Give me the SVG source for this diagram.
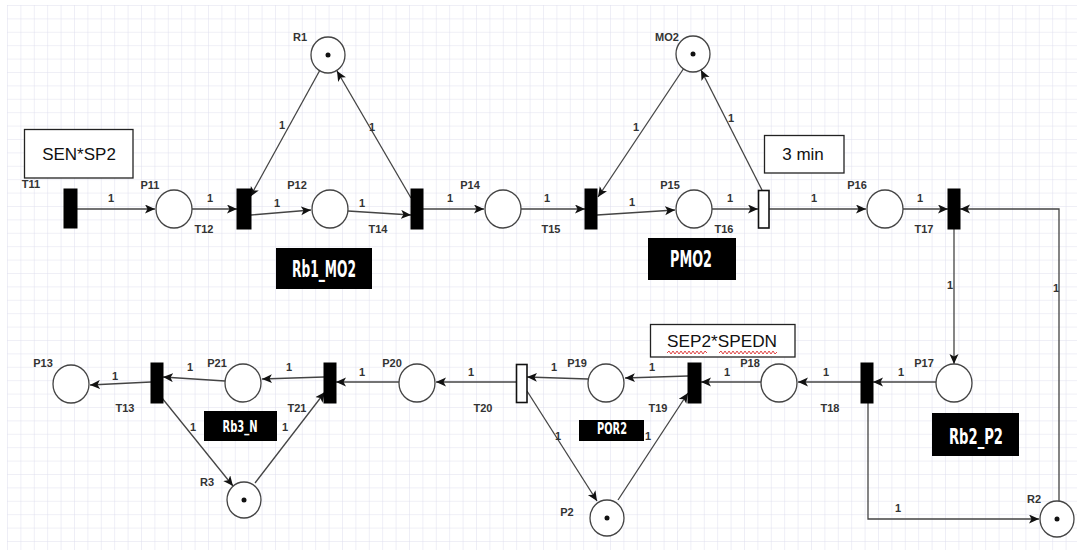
<svg xmlns="http://www.w3.org/2000/svg" width="1077" height="554" viewBox="0 0 1077 554">
<defs>
<pattern id="grid" x="7" y="5" width="13.4" height="13.4" patternUnits="userSpaceOnUse">
<path d="M0,0 H13.4 M0,0 V13.4" fill="none" stroke="#dfdfee" stroke-width="1"/>
</pattern>
<marker id="arr" markerUnits="userSpaceOnUse" markerWidth="12" markerHeight="10" refX="10" refY="4.5" orient="auto">
<path d="M0,0 L10,4.5 L0,9 L2.5,4.5 Z" fill="#111"/>
</marker>
<style>
.pl{fill:#fff;stroke:#444;stroke-width:1.3}
.tr{fill:#000;stroke:#000;stroke-width:1}
.trw{fill:#fff;stroke:#111;stroke-width:1.6}
.tok{fill:#111}
.lb{font-family:"Liberation Sans",Arial,sans-serif;font-size:11px;font-weight:bold;fill:#333;text-anchor:middle}
.cn{fill:none;stroke:#444;stroke-width:1.3;marker-end:url(#arr)}
.box{fill:#fff;stroke:#222;stroke-width:1.3}
.bt{font-family:"Liberation Sans",Arial,sans-serif;font-size:17px;fill:#111;text-anchor:middle}
.blk{fill:#000}
.wt{font-family:"Liberation Sans Narrow","DejaVu Sans Condensed","Liberation Sans",sans-serif;font-weight:bold;fill:#fff;text-anchor:middle}
</style>
</defs>
<rect width="1077" height="554" fill="#fff"/>
<rect x="7" y="5" width="1070" height="545" fill="url(#grid)"/>

<g id="connectors">
<path class="cn" d="M77,209 L155,209"/>
<path class="cn" d="M192,209 L237,209"/>
<path class="cn" d="M251,215 L311,210"/>
<path class="cn" d="M348,211 L411,215"/>
<path class="cn" d="M320,70 L250,197"/>
<path class="cn" d="M411,198 L337,71"/>
<path class="cn" d="M423,209 L484,209"/>
<path class="cn" d="M521,209 L585,209"/>
<path class="cn" d="M684,68 L598,197"/>
<path class="cn" d="M597,215 L675,210"/>
<path class="cn" d="M712,209 L758,209"/>
<path class="cn" d="M762,190 L701,70"/>
<path class="cn" d="M769,209 L866,209"/>
<path class="cn" d="M903,209 L948,209"/>
<path class="cn" d="M1059,502 L1059,209 L960,209"/>
<path class="cn" d="M954,229 L954,364"/>
<path class="cn" d="M936,382 L873,382"/>
<path class="cn" d="M868,403 L868,519 L1039,519"/>
<path class="cn" d="M861,382 L798,382"/>
<path class="cn" d="M761,382 L701,382"/>
<path class="cn" d="M688,376 L625,378"/>
<path class="cn" d="M588,379 L527,377"/>
<path class="cn" d="M516,382 L436,382"/>
<path class="cn" d="M399,382 L336,382"/>
<path class="cn" d="M324,377 L262,379"/>
<path class="cn" d="M225,381 L163,377"/>
<path class="cn" d="M151,382 L90,385"/>
<path class="cn" d="M162,398 L233,486"/>
<path class="cn" d="M255,483 L325,392"/>
<path class="cn" d="M527,391 L597,501"/>
<path class="cn" d="M618,500 L688,393"/>
<g class="lb">
<text x="111" y="202">1</text>
<text x="210" y="202">1</text>
<text x="277" y="207">1</text>
<text x="362" y="207">1</text>
<text x="450" y="202">1</text>
<text x="547" y="202">1</text>
<text x="632" y="206">1</text>
<text x="730" y="202">1</text>
<text x="814" y="202">1</text>
<text x="920" y="202">1</text>
<text x="282" y="129">1</text>
<text x="372" y="131">1</text>
<text x="636" y="131">1</text>
<text x="731" y="122">1</text>
<text x="950" y="289">1</text>
<text x="1056" y="292">1</text>
<text x="901" y="376">1</text>
<text x="826" y="376">1</text>
<text x="727" y="376">1</text>
<text x="652" y="371">1</text>
<text x="554" y="371">1</text>
<text x="471" y="376">1</text>
<text x="362" y="376">1</text>
<text x="289" y="371">1</text>
<text x="190" y="371">1</text>
<text x="115" y="380">1</text>
<text x="193" y="431">1</text>
<text x="285" y="431">1</text>
<text x="558" y="440">1</text>
<text x="648" y="440">1</text>
<text x="898" y="512">1</text>
</g>
</g>

<g id="T11"><rect class="tr" x="64" y="189" width="13" height="39"/><text class="lb" x="31" y="188">T11</text></g>
<g id="T12"><rect class="tr" x="237" y="189" width="14" height="40"/><text class="lb" x="204" y="233">T12</text></g>
<g id="T14"><rect class="tr" x="411" y="189" width="12" height="40"/><text class="lb" x="378" y="233">T14</text></g>
<g id="T15"><rect class="tr" x="585" y="189" width="12" height="40"/><text class="lb" x="551" y="233">T15</text></g>
<g id="T16"><rect class="trw" x="758.5" y="190.5" width="10.5" height="37.5"/><text class="lb" x="724" y="233">T16</text></g>
<g id="T17"><rect class="tr" x="948" y="189" width="12" height="40"/><text class="lb" x="924" y="233">T17</text></g>
<g id="T18"><rect class="tr" x="861" y="363" width="12" height="40"/><text class="lb" x="830" y="412">T18</text></g>
<g id="T19"><rect class="tr" x="688" y="363" width="13" height="40"/><text class="lb" x="658" y="412">T19</text></g>
<g id="T20"><rect class="trw" x="516.5" y="364.5" width="10.5" height="38"/><text class="lb" x="483" y="412">T20</text></g>
<g id="T21"><rect class="tr" x="324" y="363" width="12" height="40"/><text class="lb" x="297" y="412">T21</text></g>
<g id="T13"><rect class="tr" x="151" y="363" width="12" height="40"/><text class="lb" x="125" y="412">T13</text></g>

<g id="P11"><ellipse class="pl" cx="174" cy="209" rx="18" ry="19"/><text class="lb" x="150" y="189">P11</text></g>
<g id="P12"><ellipse class="pl" cx="330" cy="209" rx="18" ry="19"/><text class="lb" x="297" y="189">P12</text></g>
<g id="P14"><ellipse class="pl" cx="503" cy="209" rx="18" ry="19"/><text class="lb" x="470" y="189">P14</text></g>
<g id="P15"><ellipse class="pl" cx="694" cy="209" rx="18" ry="19"/><text class="lb" x="670" y="189">P15</text></g>
<g id="P16"><ellipse class="pl" cx="885" cy="209" rx="18" ry="19"/><text class="lb" x="857" y="189">P16</text></g>
<g id="P17"><ellipse class="pl" cx="954" cy="383" rx="18" ry="19"/><text class="lb" x="924" y="367">P17</text></g>
<g id="P18"><ellipse class="pl" cx="779" cy="383" rx="18" ry="19"/><text class="lb" x="750" y="367">P18</text></g>
<g id="P19"><ellipse class="pl" cx="606" cy="383" rx="18" ry="19"/><text class="lb" x="577" y="367">P19</text></g>
<g id="P20"><ellipse class="pl" cx="417" cy="383" rx="18" ry="19"/><text class="lb" x="392" y="367">P20</text></g>
<g id="P21"><ellipse class="pl" cx="243" cy="383" rx="18" ry="19"/><text class="lb" x="217" y="367">P21</text></g>
<g id="P13"><ellipse class="pl" cx="71" cy="384" rx="18" ry="19"/><text class="lb" x="43" y="367">P13</text></g>
<g id="R1"><ellipse class="pl" cx="328" cy="55" rx="17" ry="18"/><circle class="tok" cx="328" cy="55" r="2.5"/><text class="lb" x="300" y="41">R1</text></g>
<g id="MO2"><ellipse class="pl" cx="693" cy="54" rx="17" ry="18"/><circle class="tok" cx="693" cy="54" r="2.5"/><text class="lb" x="667" y="41">MO2</text></g>
<g id="R2"><ellipse class="pl" cx="1057" cy="519" rx="17" ry="18"/><circle class="tok" cx="1057" cy="519" r="2.5"/><text class="lb" x="1034" y="503">R2</text></g>
<g id="P2"><ellipse class="pl" cx="607" cy="518" rx="17" ry="18"/><circle class="tok" cx="607" cy="518" r="2.5"/><text class="lb" x="567" y="516">P2</text></g>
<g id="R3"><ellipse class="pl" cx="244" cy="500" rx="17" ry="18"/><circle class="tok" cx="244" cy="500" r="2.5"/><text class="lb" x="207" y="486">R3</text></g>

<g id="cond-SEN-SP2"><rect class="box" x="24.5" y="129.5" width="108.5" height="48.5"/><text class="bt" x="79" y="160">SEN*SP2</text></g>
<g id="cond-3min"><rect class="box" x="764.5" y="135.5" width="79.5" height="37.5"/><text class="bt" x="803" y="160">3 min</text></g>
<g id="cond-SEP2-SPEDN"><rect class="box" x="650.5" y="324.5" width="144.5" height="32.5"/><text class="bt" x="722" y="347" textLength="110" lengthAdjust="spacingAndGlyphs">SEP2*SPEDN</text>
<polyline points="667,353 669,351 671,354 673,351 675,354 677,351 679,354 681,351 683,354 685,351 687,354 689,351 691,354 693,351 695,354 697,351 699,354 701,351 703,354 705,351 707,353" fill="none" stroke="#d33" stroke-width="0.9"/>
<polyline points="719,353 721,351 723,354 725,351 727,354 729,351 731,354 733,351 735,354 737,351 739,354 741,351 743,354 745,351 747,354 749,351 751,354 753,351 755,354 757,351 759,354 761,351 763,354 765,351 767,354 769,351 771,354 773,351 775,354 777,352" fill="none" stroke="#d33" stroke-width="0.9"/>
</g>

<g id="Rb1_MO2"><rect class="blk" x="276" y="248" width="96" height="41"/><text class="wt" x="324" y="277" font-size="23" textLength="64" lengthAdjust="spacingAndGlyphs">Rb1_MO2</text></g>
<g id="PMO2"><rect class="blk" x="648" y="238" width="88" height="42"/><text class="wt" x="691" y="267" font-size="23" textLength="42" lengthAdjust="spacingAndGlyphs">PMO2</text></g>
<g id="Rb2_P2"><rect class="blk" x="932" y="413" width="87" height="43"/><text class="wt" x="976" y="444" font-size="21" textLength="54" lengthAdjust="spacingAndGlyphs">Rb2_P2</text></g>
<g id="Rb3_N"><rect class="blk" x="204" y="411" width="73" height="30"/><text class="wt" x="240" y="432" font-size="16" textLength="35" lengthAdjust="spacingAndGlyphs">Rb3_N</text></g>
<g id="POR2"><rect class="blk" x="579" y="420" width="65" height="21"/><text class="wt" x="612" y="434" font-size="16" textLength="30" lengthAdjust="spacingAndGlyphs">POR2</text></g>
</svg>
